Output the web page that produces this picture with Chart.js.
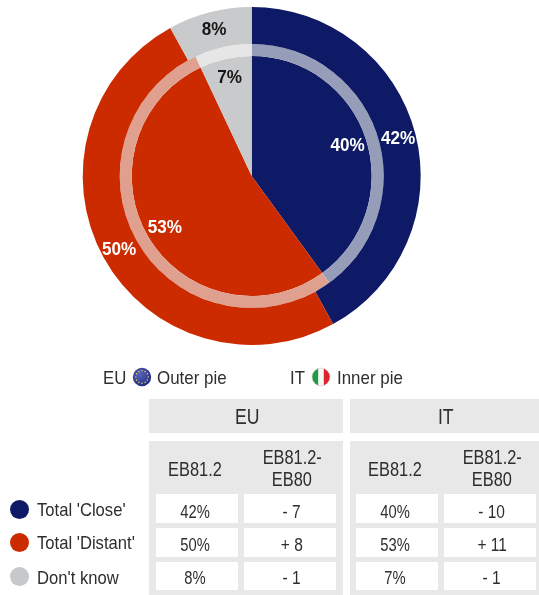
<!DOCTYPE html>
<html>
<head>
<meta charset="utf-8">
<script src="https://cdn.jsdelivr.net/npm/chart.js@4"></script>
<style>
html,body{margin:0;padding:0;background:#fff;}
#wrap{position:relative;width:539px;height:595px;overflow:hidden;font-family:"Liberation Sans",Arial,sans-serif;color:#2e2e2e;filter:blur(0.4px);}
canvas{position:absolute;left:0;top:0;}
.box{position:absolute;}
.t{position:absolute;white-space:nowrap;line-height:24px;height:24px;}
.t span{display:inline-block;}
svg{position:absolute;}
</style>
</head>
<body>
<div id="wrap"><canvas id="c" width="539" height="595"></canvas></div>
<script>
const categories = ["Total 'Close'", "Total 'Distant'", "Don't know"];
const euValues = [42, 50, 8];
const itValues = [40, 53, 7];
const euDelta = ["- 7", "+ 8", "- 1"];
const itDelta = ["- 10", "+ 11", "- 1"];
const pieColors = ["#0e1a66", "#cc2b00", "#c9cacc"];
const ringColors = ["#969db9", "#e0a090", "#e6e6e6"];
const waveLabel = "EB81.2";
const diffLabel = ["EB81.2-", "EB80"];

const wrap = document.getElementById("wrap");
function box(x0, y0, x1, y1, color) {
  const d = document.createElement("div");
  d.className = "box";
  d.style.cssText = `left:${x0}px;top:${y0}px;width:${x1 - x0}px;height:${y1 - y0}px;background:${color}`;
  wrap.appendChild(d);
}
function text(str, x, y, size, sx, align) {
  const d = document.createElement("div");
  d.className = "t";
  const s = document.createElement("span");
  s.textContent = str;
  s.style.fontSize = size + "px";
  const org = align === "left" ? "left" : "center";
  s.style.transformOrigin = org + " center";
  s.style.transform = `scaleX(${sx})`;
  d.appendChild(s);
  d.style.top = (y - 12) + "px";
  if (align === "left") { d.style.left = x + "px"; }
  else { d.style.left = (x - 100) + "px"; d.style.width = "200px"; d.style.textAlign = "center"; }
  wrap.appendChild(d);
}

// top legend
text("EU", 103, 377.5, 19, 0.88, "left");
text("Outer pie", 157, 377.5, 19, 0.89, "left");
text("IT", 290, 377.5, 19, 0.88, "left");
text("Inner pie", 336.5, 377.5, 19, 0.89, "left");
const stars = Array.from({length: 12}, (_, i) => {
  const a = i * Math.PI / 6;
  return `<circle cx="${(10 + 6.2 * Math.cos(a)).toFixed(2)}" cy="${(10 + 6.2 * Math.sin(a)).toFixed(2)}" r="0.8" fill="#d8c84a"/>`;
}).join("");
wrap.insertAdjacentHTML("beforeend",
  `<svg style="left:132px;top:367px" width="20" height="20" viewBox="0 0 20 20">
     <defs><radialGradient id="eu" cx="40%" cy="35%" r="70%"><stop offset="0" stop-color="#5a63c0"/><stop offset="1" stop-color="#1f2a80"/></radialGradient></defs>
     <circle cx="10" cy="10" r="9.2" fill="url(#eu)"/>${stars}</svg>
   <svg style="left:310.5px;top:367px" width="20" height="20" viewBox="0 0 20 20">
     <defs><clipPath id="ci"><circle cx="10" cy="10" r="9"/></clipPath></defs>
     <g clip-path="url(#ci)"><rect x="0" y="0" width="7.4" height="20" fill="#1f9a45"/><rect x="7.4" y="0" width="5.4" height="20" fill="#f6f6f6"/><rect x="12.8" y="0" width="7.2" height="20" fill="#d8262c"/></g>
     <circle cx="10" cy="10" r="9" fill="none" stroke="#d0d0d0" stroke-width="0.6"/></svg>`);

// table
const panelGrey = "#e8e8e8";
const panels = [
  {x0: 149, x1: 342.5, title: "EU", c1: [156, 237.7], c2: [244, 336], vals: euValues, delta: euDelta},
  {x0: 350, x1: 539, title: "IT", c1: [356, 438], c2: [444, 536], vals: itValues, delta: itDelta}
];
const rowBoxes = [[494.3, 523.3], [528.3, 557], [561.7, 590.3]];
const rowText = [512, 545, 578.3];
const legendText = [510, 543, 578];
panels.forEach(p => {
  box(p.x0, 399.3, p.x1, 432.7, panelGrey);
  box(p.x0, 440.7, p.x1, 595, panelGrey);
  text(p.title, (p.x0 + p.x1) / 2 + 1.5, 417, 22, 0.8);
  const m1 = (p.c1[0] + p.c1[1]) / 2 - 2, m2 = (p.c2[0] + p.c2[1]) / 2 + 2;
  text(waveLabel, m1, 469, 19.5, 0.84);
  text(diffLabel[0], m2, 456.5, 19.5, 0.84);
  text(diffLabel[1], m2, 479, 19.5, 0.84);
  rowBoxes.forEach((r, i) => {
    box(p.c1[0], r[0], p.c1[1], r[1], "#fff");
    box(p.c2[0], r[0], p.c2[1], r[1], "#fff");
    text(p.vals[i] + "%", m1, rowText[i], 18, 0.82);
    text(p.delta[i], m2, rowText[i], 18, 0.86);
  });
});

// left legend
categories.forEach((c, i) => {
  const d = document.createElement("div");
  d.className = "box";
  d.style.cssText = `left:10px;top:${legendText[i] - (i === 2 ? 11 : 10) - 0.2}px;width:19px;height:19px;border-radius:50%;background:${pieColors[i] === "#c9cacc" ? "#c6c8ca" : pieColors[i]}`;
  wrap.appendChild(d);
  text(c, 37, legendText[i], 19, 0.875, "left");
});

// value labels drawn at each arc, following the arc's own geometry
const labelPlugin = {
  id: "sliceLabels",
  afterDatasetsDraw(chart) {
    const ctx = chart.ctx;
    [[0, 0.52], [2, 0.84]].forEach(([dsIndex, frac]) => {
      chart.getDatasetMeta(dsIndex).data.forEach((arc, i) => {
        const {startAngle, endAngle, innerRadius, outerRadius, x, y} =
          arc.getProps(["startAngle", "endAngle", "innerRadius", "outerRadius", "x", "y"], true);
        const a = (startAngle + endAngle) / 2;
        const r = innerRadius + frac * (outerRadius - innerRadius);
        ctx.save();
        ctx.translate(x + r * Math.cos(a), y + r * Math.sin(a) + 0.5);
        ctx.scale(0.9, 1);
        ctx.font = 'bold 19px "Liberation Sans", Arial, sans-serif';
        ctx.textAlign = "center";
        ctx.textBaseline = "middle";
        ctx.fillStyle = i === 2 ? "#161616" : "#ffffff";
        ctx.fillText(chart.data.datasets[dsIndex].data[i] + "%", 0, 0);
        ctx.restore();
      });
    });
  }
};

new Chart(document.getElementById("c"), {
  type: "pie",
  data: {
    labels: categories,
    datasets: [
      {label: "EU", data: euValues, backgroundColor: pieColors, borderWidth: 0, weight: 37},
      {label: "IT ring", data: itValues, backgroundColor: ringColors, borderWidth: 0, weight: 12},
      {label: "IT", data: itValues, backgroundColor: pieColors, borderWidth: 0, weight: 120}
    ]
  },
  options: {
    responsive: false,
    animation: false,
    events: [],
    layout: {padding: {left: 82.7, right: 118.3, top: 7, bottom: 250}},
    plugins: {legend: {display: false}, tooltip: {enabled: false}}
  },
  plugins: [labelPlugin]
});
</script>
</body>
</html>
